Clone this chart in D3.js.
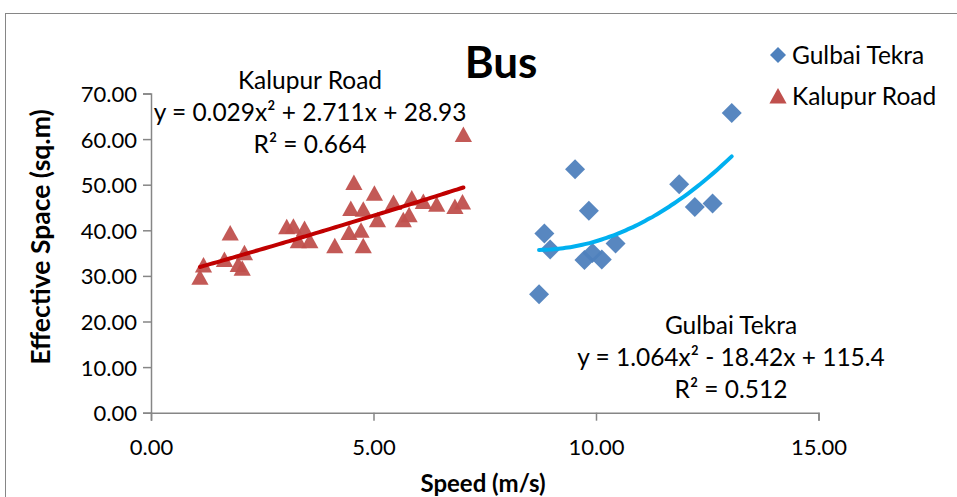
<!DOCTYPE html>
<html>
<head>
  <meta charset="UTF-8">
  <title>Bus</title>
  <script src="https://cdn.jsdelivr.net/npm/d3@7"></script>
  <style>
    body { margin: 0; background: #fff; }
    text { font-family: Lato, "Open Sans", sans-serif; fill: #000; }
  </style>
</head>
<body>
  <svg id="chart" width="957" height="497"></svg>
  <script>
    // speed (m/s) and effective space (sq.m)
    const gulbaiSpeed = [8.72, 8.84, 8.97, 9.53, 9.74, 9.84, 9.92, 10.13, 10.44, 11.87, 12.22, 12.62, 13.05];
    const gulbaiSpace = [26.0, 39.3, 35.8, 53.4, 33.5, 44.3, 35.0, 33.6, 37.1, 50.1, 45.1, 45.9, 65.7];

    const kalupurSpeed = [1.10, 1.18, 1.65, 1.78, 1.96, 2.05, 2.10, 3.05, 3.20, 3.31, 3.45, 3.57, 4.13, 4.45, 4.49,
                          4.56, 4.72, 4.77, 4.77, 5.02, 5.09, 5.45, 5.67, 5.80, 5.86, 6.12, 6.42, 6.83, 7.00, 7.02];
    const kalupurSpace = [29.7, 32.4, 33.6, 39.4, 32.5, 31.7, 35.1, 40.8, 40.9, 37.7, 40.4, 37.7, 36.6, 39.5, 44.8,
                          50.5, 40.0, 44.6, 36.6, 48.1, 42.3, 46.1, 42.3, 43.4, 47.1, 46.3, 45.7, 45.2, 46.2, 61.0];

    // polynomial trend coefficients [x², x, 1]
    const gulbaiFit = [1.064, -18.42, 115.4];
    const kalupurFit = [0.029, 2.711, 28.93];

    const xTicks = [0, 5, 10, 15];
    const yTicks = [0, 10, 20, 30, 40, 50, 60, 70];

    const svg = d3.select('#chart');
    const x = d3.scaleLinear().domain([0, 15]).range([151, 818.5]);
    const y = d3.scaleLinear().domain([0, 70]).range([412.7, 93.5]);
    const fmt = d3.format('.2f');

    // outer chart border
    svg.append('rect').attr('x', 5.5).attr('y', 13.5).attr('width', 1000).attr('height', 1000)
      .attr('fill', 'none').attr('stroke', '#868686').attr('stroke-width', 1);

    // axes
    const xAxis = svg.append('g').attr('transform', `translate(0,${y(0)})`)
      .call(d3.axisBottom(x).tickValues(xTicks).tickFormat(fmt).tickSize(8).tickPadding(19));
    const yAxis = svg.append('g').attr('transform', `translate(${x(0)},0)`)
      .call(d3.axisLeft(y).tickValues(yTicks).tickFormat(fmt).tickSize(8).tickPadding(6));
    [xAxis, yAxis].forEach(a =>
    {
      a.select('.domain').attr('stroke', '#868686').attr('stroke-width', 1.5);
      a.selectAll('.tick line').attr('stroke', '#868686').attr('stroke-width', 1.5);
      a.selectAll('.tick text').style('font-size', '22px').attr('fill', '#000');
    });
    yAxis.selectAll('.tick text').attr('dy', '0.36em');

    // trend lines
    function fitLine(xs, c)
    {
      const lo = d3.min(xs), hi = d3.max(xs);
      return d3.range(0, 41).map(i =>
      {
        const v = lo + (hi - lo) * i / 40;
        return [v, c[0] * v * v + c[1] * v + c[2]];
      });
    }
    const line = d3.line().x(d => x(d[0])).y(d => y(d[1])).curve(d3.curveMonotoneX);

    const diamond = 'M0,-10L10,0L0,10L-10,0Z';
    const triangle = 'M0,-8L8.6,7.5L-8.6,7.5Z';

    // markers
    svg.append('g').selectAll('path').data(d3.zip(kalupurSpeed, kalupurSpace)).enter().append('path')
      .attr('d', triangle).attr('transform', d => `translate(${x(d[0])},${y(d[1])})`)
      .attr('fill', '#C0504D').attr('fill-opacity', 0.95);
    svg.append('g').selectAll('path').data(d3.zip(gulbaiSpeed, gulbaiSpace)).enter().append('path')
      .attr('d', diamond).attr('transform', d => `translate(${x(d[0])},${y(d[1])})`)
      .attr('fill', '#4F81BD').attr('fill-opacity', 0.95);

    svg.append('path').attr('d', line(fitLine(kalupurSpeed, kalupurFit)))
      .attr('fill', 'none').attr('stroke', '#C00000').attr('stroke-width', 4).attr('stroke-linecap', 'round');
    svg.append('path').attr('d', line(fitLine(gulbaiSpeed, gulbaiFit)))
      .attr('fill', 'none').attr('stroke', '#00B0F0').attr('stroke-width', 4).attr('stroke-linecap', 'round');

    // title and axis titles
    svg.append('text').attr('x', 501).attr('y', 78).attr('text-anchor', 'middle')
      .style('font-size', '44px').style('font-weight', 'bold').text('Bus');
    svg.append('text').attr('x', 483).attr('y', 492).attr('text-anchor', 'middle')
      .style('font-size', '24px').style('font-weight', 'bold').text('Speed (m/s)');
    svg.append('text').attr('transform', 'translate(50,237) rotate(-90)').attr('text-anchor', 'middle')
      .style('font-size', '26.5px').style('font-weight', 'bold').text('Effective Space (sq.m)');

    // trend labels
    function label(cx, top, lines)
    {
      svg.append('g').selectAll('text').data(lines).enter().append('text')
        .attr('x', cx).attr('y', (d, i) => top + i * 32).attr('text-anchor', 'middle')
        .style('font-size', '24.5px').text(d => d);
    }
    label(310, 89, ['Kalupur Road', 'y = 0.029x² + 2.711x + 28.93', 'R² = 0.664']);
    label(731, 334, ['Gulbai Tekra', 'y = 1.064x² - 18.42x + 115.4', 'R² = 0.512']);

    // legend
    const legend = svg.append('g');
    legend.append('path').attr('d', 'M0,-8L8,0L0,8L-8,0Z').attr('transform', 'translate(778,55)').attr('fill', '#4F81BD');
    legend.append('path').attr('d', 'M0,-8L8.6,7.5L-8.6,7.5Z').attr('transform', 'translate(778,96)').attr('fill', '#C0504D');
    legend.append('text').attr('x', 792).attr('y', 55).attr('dy', '0.36em').style('font-size', '24.5px').text('Gulbai Tekra');
    legend.append('text').attr('x', 792).attr('y', 96).attr('dy', '0.36em').style('font-size', '24.5px').text('Kalupur Road');
  </script>
</body>
</html>
